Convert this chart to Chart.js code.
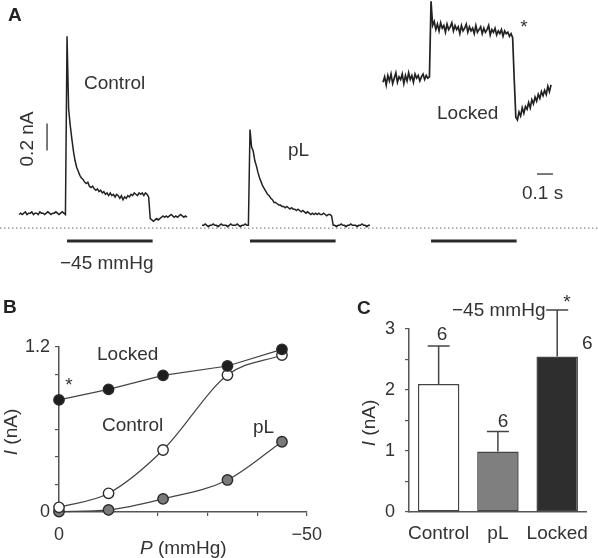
<!DOCTYPE html>
<html>
<head>
<meta charset="utf-8">
<script src="https://cdn.jsdelivr.net/npm/chart.js@4/dist/chart.umd.min.js"></script>
<style>
  html, body { margin: 0; padding: 0; background: #fff; }
  #fig { position: relative; width: 598px; height: 558px; overflow: hidden; background: #fff; }
  canvas { position: absolute; }
  .t { position: absolute; line-height: 1; white-space: nowrap; font-family: "Liberation Sans", Arial, Helvetica, sans-serif; font-size: 19px; color: #333; transform: translate(0, -50%); }
  .c { transform: translate(-50%, -50%); }
  .b { font-weight: bold; color: #222; }
  .rot { transform: translate(-50%, -50%) rotate(-90deg); }
  .i { font-style: italic; }
</style>
</head>
<body>
<div id="fig">
  <canvas id="chartA" width="598" height="290" style="left:0;top:0;width:598px;height:290px"></canvas>
  <canvas id="chartB" width="330" height="258" style="left:0;top:300px;width:330px;height:258px"></canvas>
  <canvas id="chartC" width="268" height="258" style="left:330px;top:300px;width:268px;height:258px"></canvas>

  <!-- Panel A text -->
  <div class="t b" style="left:8px;top:14px">A</div>
  <div class="t" style="left:84px;top:82px">Control</div>
  <div class="t rot" style="left:26px;top:139px">0.2 nA</div>
  <div class="t" style="left:60px;top:262px">−45 mmHg</div>
  <div class="t" style="left:288px;top:149px">pL</div>
  <div class="t" style="left:437px;top:112px">Locked</div>
  <div class="t c" style="left:524px;top:26px">*</div>
  <div class="t" style="left:522px;top:192px">0.1 s</div>

  <!-- Panel B text -->
  <div class="t b" style="left:3px;top:306px">B</div>
  <div class="t" style="left:97px;top:353px">Locked</div>
  <div class="t" style="left:102px;top:424px">Control</div>
  <div class="t" style="left:253px;top:426px">pL</div>
  <div class="t c" style="left:69px;top:384px">*</div>
  <div class="t rot" style="left:10px;top:432px"><span class="i">I</span> (nA)</div>
  <div class="t" style="left:140px;top:547px"><span class="i">P</span> (mmHg)</div>

  <!-- Panel C text -->
  <div class="t b" style="left:357px;top:307px">C</div>
  <div class="t" style="left:452px;top:309px">−45 mmHg</div>
  <div class="t c" style="left:567px;top:301px">*</div>
  <div class="t c" style="left:442px;top:333px">6</div>
  <div class="t c" style="left:503px;top:420px">6</div>
  <div class="t" style="left:582px;top:342px">6</div>
  <div class="t rot" style="left:368px;top:423px"><span class="i">I</span> (nA)</div>
</div>

<script>
// ---------------- DATA ----------------
// Panel A: current traces (nA), sampled every SAMPLE_DT s starting SAMPLE_START s before the pressure step
const SAMPLE_START = -0.30;
const SAMPLE_DT = 0.01;
const STIM_DURATION = 0.535;      // s, -45 mmHg step
const SCALE_BAR_NA = 0.2;
const SCALE_BAR_S = 0.1;

const traceControl = [
  0.10,0.11,0.10,0.11,0.12,0.10,0.11,0.11,0.12,0.10,0.11,0.11,0.10,0.12,0.11,0.11,0.10,0.11,0.12,0.11,0.10,0.11,0.11,0.12,0.11,0.10,0.11,0.12,0.11,0.10,
  1.42,0.88,0.76,0.66,0.57,0.50,0.45,0.42,0.39,0.37,
  0.36,0.34,0.33,0.34,0.31,0.30,0.31,0.29,0.28,0.29,
  0.27,0.28,0.26,0.27,0.25,0.26,0.24,0.26,0.24,0.25,
  0.23,0.25,0.24,0.22,0.24,0.21,0.23,0.22,0.24,0.23,
  0.25,0.24,0.26,0.25,0.24,0.26,0.25,0.26,0.24,0.26,
  0.25,0.23,
  0.07,
  0.06,0.05,0.06,0.07,0.06,0.07,0.08,0.09,0.08,0.09,0.08,0.09,0.10,0.09,0.08,0.09,0.08,0.09,0.10,0.09,0.08,0.09,0.08
];
const tracePL = [
  0.02,0.02,0.03,0.02,0.01,0.02,0.02,0.03,0.02,0.02,0.01,0.02,0.03,0.02,0.02,0.02,0.01,0.02,0.03,0.02,0.02,0.02,0.03,0.02,0.01,0.02,0.02,0.03,0.02,0.02,
  0.73,0.60,0.57,0.50,0.46,0.41,0.37,0.34,0.31,0.29,
  0.27,0.25,0.24,0.22,0.21,0.19,0.19,0.18,0.17,0.17,
  0.16,0.16,0.15,0.16,0.15,0.14,0.15,0.14,0.14,0.13,
  0.14,0.13,0.12,0.13,0.12,0.11,0.12,0.11,0.10,0.11,
  0.10,0.11,0.10,0.11,0.10,0.10,0.11,0.10,0.09,0.10,
  0.10,0.09,
  0.02,
  0.02,0.01,0.02,0.02,0.03,0.02,0.02,0.01,0.02,0.02,0.03,0.02,0.02,0.02,0.01,0.02,0.02,0.03,0.02,0.02,0.01,0.02,0.02
];
const traceLocked = [
  1.08,1.12,1.06,1.13,1.09,1.14,1.07,1.11,1.15,1.08,1.12,1.10,1.14,1.07,1.13,1.09,1.15,1.10,1.13,1.08,1.14,1.11,1.13,1.09,1.12,1.14,1.10,1.13,1.11,1.12,
  1.68,1.50,
  1.53,1.47,1.51,1.46,1.52,1.48,1.50,1.45,1.51,1.47,
  1.49,1.52,1.46,1.50,1.47,1.49,1.44,1.50,1.46,1.48,
  1.51,1.45,1.49,1.46,1.48,1.44,1.50,1.45,1.47,1.49,
  1.44,1.48,1.45,1.47,1.50,1.43,1.47,1.45,1.48,1.43,
  1.46,1.44,1.47,1.42,1.46,1.44,1.45,1.42,1.44,1.41,
  1.10,0.82,0.80,0.86,0.83,0.89,0.85,0.90,0.88,0.93,0.89,0.95,0.92,0.97,0.94,0.99,0.96,1.01,0.98,1.02,0.99,1.05,1.01,1.06
];

// Panel B: current vs pressure
const pressures = [0, -10, -21, -34, -45];          // mmHg
const lockedIP  = [0.815, 0.892, 0.994, 1.062, 1.183]; // nA
const controlIP = [0.034, 0.136, 0.451, 0.996, 1.142];
const pLIP      = [0.003, 0.015, 0.095, 0.233, 0.511];
const bYTicks = ['0', '1.2'];
const bXTicks = ['0', '−50'];

// Panel C: mean current at -45 mmHg
const conditions = ['Control', 'pL', 'Locked'];
const meanI = [2.10, 0.99, 2.55];
const semI  = [0.62, 0.33, 0.76];
const nCells = [6, 6, 6];

// ---------------- LAYOUT / STYLE ----------------
const FONT = '"Liberation Sans", Arial, Helvetica, sans-serif';
const TXT = '#333';
const AXIS = '#555';
Chart.defaults.font.family = FONT;
Chart.defaults.color = TXT;
Chart.defaults.animation = false;

// Panel A: panel time axis (s) and current axis (nA)
const A_X_MAX = 3.7375;
const A_Y_MIN = -0.459, A_Y_MAX = 1.689;
const onsets = { control: 0.419, pL: 1.5625, locked: 2.694 };
const STIM_LEVEL = -0.096;
const VBAR_T = 0.294, VBAR_I0 = 0.575;
const HBAR_T0 = 3.356, HBAR_I = 0.40;

function toXY(trace, onset) {
  return trace.map((v, i) => ({ x: onset + SAMPLE_START + i * SAMPLE_DT, y: v }));
}
function seg(x0, y0, x1, y1, color, width, dash) {
  return { data: [{x: x0, y: y0}, {x: x1, y: y1}], borderColor: color, borderWidth: width,
           borderDash: dash || [], pointRadius: 0, tension: 0, clip: false };
}
const traceStyle = (d, w) => ({ data: d, borderColor: '#222', borderWidth: w, pointRadius: 0, tension: 0 });

new Chart(document.getElementById('chartA'), {
  type: 'line',
  data: {
    datasets: [
      seg(0, 0, A_X_MAX, 0, '#888', 1.2, [1.5, 2.5]),
      traceStyle(toXY(traceControl, onsets.control), 1.5),
      traceStyle(toXY(tracePL, onsets.pL), 1.5),
      traceStyle(toXY(traceLocked, onsets.locked), 1.7),
      seg(onsets.control, STIM_LEVEL, onsets.control + STIM_DURATION, STIM_LEVEL, '#2a2a2a', 3),
      seg(onsets.pL, STIM_LEVEL, onsets.pL + STIM_DURATION, STIM_LEVEL, '#2a2a2a', 3),
      seg(onsets.locked, STIM_LEVEL, onsets.locked + STIM_DURATION, STIM_LEVEL, '#2a2a2a', 3),
      seg(VBAR_T, VBAR_I0, VBAR_T, VBAR_I0 + SCALE_BAR_NA, '#333', 1.3),
      seg(HBAR_T0, HBAR_I, HBAR_T0 + SCALE_BAR_S, HBAR_I, '#333', 1.3)
    ]
  },
  options: {
    responsive: false,
    layout: { padding: 0 },
    plugins: { legend: { display: false }, tooltip: { enabled: false } },
    scales: {
      x: { type: 'linear', min: 0, max: A_X_MAX, display: false },
      y: { type: 'linear', min: A_Y_MIN, max: A_Y_MAX, display: false }
    }
  }
});

// Panel B
function ptSet(vals, fill, interp) {
  const ds = {
    data: pressures.map((p, i) => ({ x: p, y: vals[i] })),
    showLine: true,
    borderColor: '#444',
    borderWidth: 1.2,
    pointRadius: 5.2,
    pointBorderWidth: 1.4,
    pointBorderColor: '#2a2a2a',
    pointBackgroundColor: fill,
    clip: false,
    tension: 0
  };
  if (interp) ds.cubicInterpolationMode = 'monotone';
  return ds;
}
new Chart(document.getElementById('chartB'), {
  type: 'scatter',
  data: {
    datasets: [
      ptSet(lockedIP, '#1e1e1e', false),
      ptSet(controlIP, '#ffffff', true),
      ptSet(pLIP, '#7a7a7a', true)
    ]
  },
  options: {
    responsive: false,
    layout: { padding: { left: 0, top: 47, right: 20, bottom: 0 } },
    plugins: { legend: { display: false }, tooltip: { enabled: false } },
    scales: {
      x: {
        type: 'linear', min: -50, max: 0, reverse: true,
        grid: { drawOnChartArea: false, drawTicks: true, tickLength: 4, color: AXIS, lineWidth: 1.2 },
        border: { color: AXIS, width: 1.5 },
        ticks: { stepSize: 10, padding: 8, font: { size: 18 }, color: TXT, maxRotation: 0, autoSkip: false,
                 callback: (v) => v === 0 ? bXTicks[0] : (v === -50 ? bXTicks[1] : '') },
        afterFit: (s) => { s.height = 46; }
      },
      y: {
        type: 'linear', min: 0, max: 1.2,
        grid: { drawOnChartArea: false, drawTicks: true, tickLength: 4, color: AXIS, lineWidth: 1.2 },
        border: { color: AXIS, width: 1.5 },
        ticks: { stepSize: 0.2, padding: 5, font: { size: 18 }, color: TXT, autoSkip: false,
                 callback: (v) => Math.abs(v) < 1e-6 ? bYTicks[0] : (Math.abs(v - 1.2) < 1e-6 ? bYTicks[1] : '') },
        afterFit: (s) => { s.width = 59; }
      }
    }
  }
});

// Panel C
const errorBars = {
  id: 'errorBars',
  afterDatasetsDraw(chart) {
    const ctx = chart.ctx;
    const meta = chart.getDatasetMeta(0);
    const ys = chart.scales.y;
    ctx.save();
    ctx.strokeStyle = '#444';
    ctx.lineWidth = 1.5;
    meta.data.forEach((bar, i) => {
      const top = ys.getPixelForValue(meanI[i] + semI[i]);
      ctx.beginPath();
      ctx.moveTo(bar.x, bar.y);
      ctx.lineTo(bar.x, top);
      ctx.moveTo(bar.x - 11, top);
      ctx.lineTo(bar.x + 11, top);
      ctx.stroke();
    });
    ctx.restore();
  }
};
new Chart(document.getElementById('chartC'), {
  type: 'bar',
  data: {
    labels: conditions,
    datasets: [{
      data: meanI,
      backgroundColor: ['#ffffff', '#7f7f7f', '#2e2e2e'],
      borderColor: '#444',
      borderWidth: 1.5,
      borderSkipped: false,
      categoryPercentage: 1,
      barPercentage: 0.7
    }]
  },
  options: {
    responsive: false,
    layout: { padding: { left: 0, top: 29, right: 1, bottom: 0 } },
    plugins: { legend: { display: false }, tooltip: { enabled: false } },
    scales: {
      x: {
        grid: { display: true, drawOnChartArea: false, drawTicks: false },
        border: { color: AXIS, width: 1.5 },
        ticks: { padding: 10, font: { size: 19 }, color: TXT, maxRotation: 0, autoSkip: false },
        afterFit: (s) => { s.height = 46; }
      },
      y: {
        min: 0, max: 3,
        grid: { drawOnChartArea: false, drawTicks: true, tickLength: 4, color: AXIS, lineWidth: 1.2 },
        border: { color: AXIS, width: 1.5 },
        ticks: { stepSize: 0.5, padding: 10, font: { size: 18 }, color: TXT, autoSkip: false,
                 callback: (v) => Number.isInteger(v) ? String(v) : '' },
        afterFit: (s) => { s.width = 79; }
      }
    }
  },
  plugins: [errorBars]
});
</script>
</body>
</html>
